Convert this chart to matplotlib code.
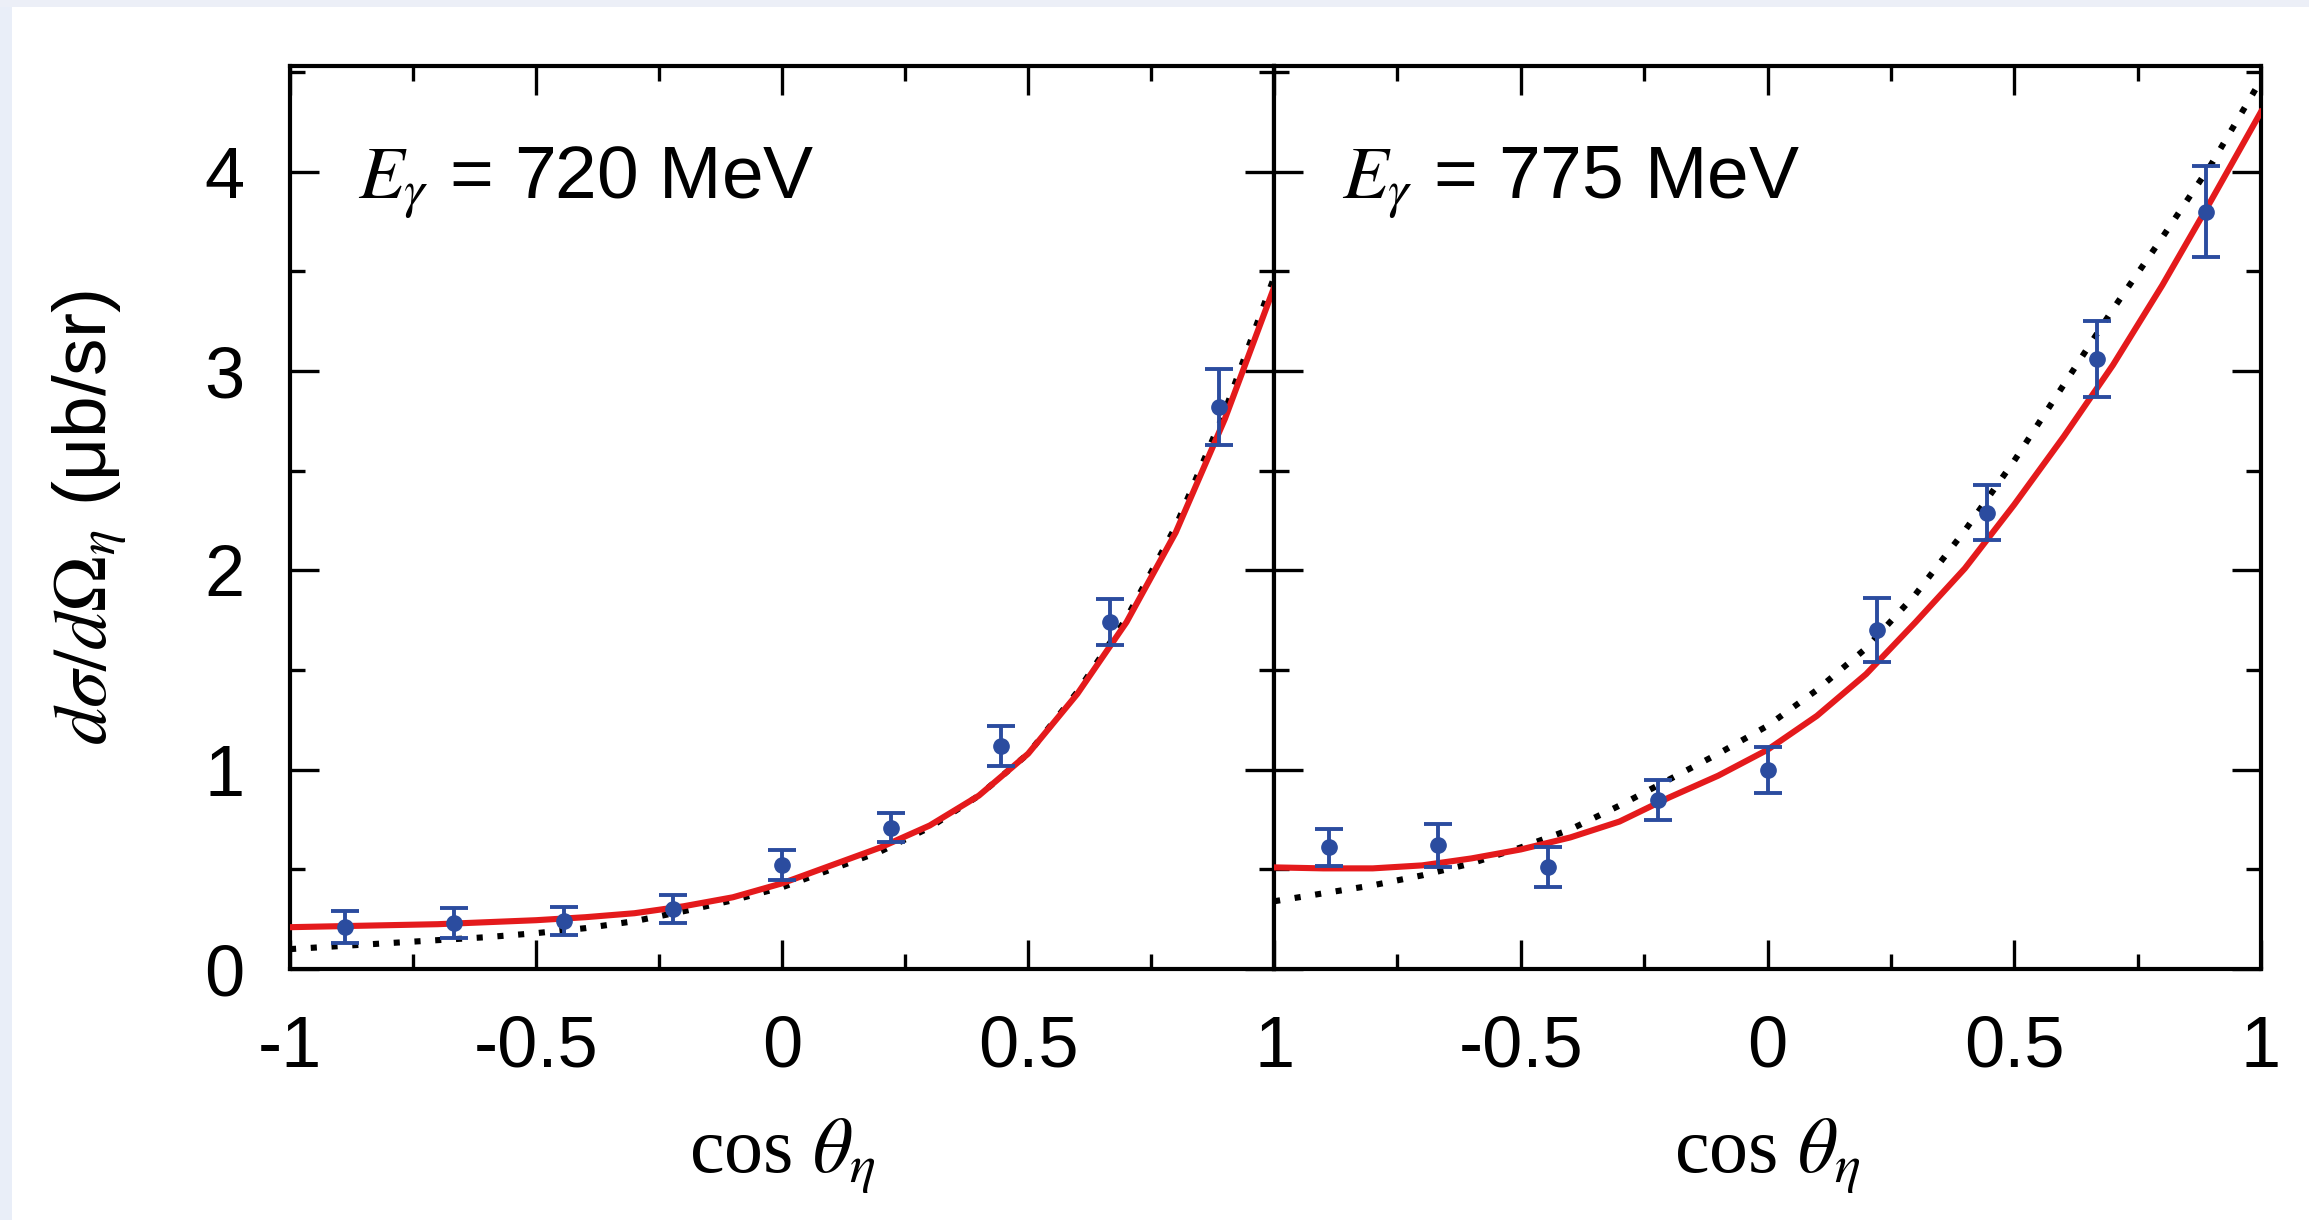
import matplotlib
matplotlib.use('Agg')
import matplotlib.pyplot as plt
from matplotlib.patches import Rectangle
from matplotlib.ticker import FixedLocator, FixedFormatter, MultipleLocator

# ---------------- data ----------------
cos_bins = [-0.889, -0.667, -0.444, -0.222, 0.0, 0.222, 0.444, 0.667, 0.889]

xs_720 = [0.21, 0.23, 0.24, 0.30, 0.52, 0.71, 1.12, 1.74, 2.82]
err_720 = [0.08, 0.075, 0.07, 0.07, 0.075, 0.073, 0.10, 0.115, 0.19]

xs_775 = [0.61, 0.62, 0.51, 0.85, 1.00, 1.70, 2.29, 3.06, 3.80]
err_775 = [0.095, 0.11, 0.10, 0.10, 0.115, 0.16, 0.14, 0.19, 0.23]

curve_x = [-1.0, -0.9, -0.8, -0.7, -0.6, -0.5, -0.4, -0.3, -0.2, -0.1, 0.0,
           0.1, 0.2, 0.3, 0.4, 0.5, 0.6, 0.7, 0.8, 0.9, 1.0]
red_720 = [0.21, 0.215, 0.22, 0.225, 0.235, 0.245, 0.26, 0.28, 0.315, 0.36, 0.43,
           0.52, 0.61, 0.72, 0.87, 1.08, 1.38, 1.74, 2.19, 2.76, 3.42]
dot_720 = [0.10, 0.115, 0.13, 0.145, 0.16, 0.18, 0.205, 0.24, 0.29, 0.345, 0.41,
           0.50, 0.59, 0.71, 0.87, 1.08, 1.39, 1.76, 2.22, 2.80, 3.47]
red_775 = [0.51, 0.505, 0.505, 0.52, 0.555, 0.60, 0.66, 0.74, 0.86, 0.97, 1.10,
           1.27, 1.48, 1.74, 2.01, 2.33, 2.67, 3.03, 3.43, 3.86, 4.30]
dot_775 = [0.34, 0.38, 0.42, 0.47, 0.53, 0.61, 0.70, 0.82, 0.95, 1.08, 1.22,
           1.40, 1.61, 1.88, 2.20, 2.55, 2.93, 3.31, 3.67, 4.04, 4.46]

energies = ['720', '775']
xtick_vals = [-1, -0.5, 0, 0.5, 1]
xtick_labels_left = ['-1', '-0.5', '0', '0.5', '1']
xtick_labels_right = ['', '-0.5', '0', '0.5', '1']
ytick_vals = [0, 1, 2, 3, 4]
ytick_labels = ['0', '1', '2', '3', '4']

# ---------------- style ----------------
plt.rcParams['font.family'] = ['Liberation Sans', 'DejaVu Sans']
plt.rcParams['mathtext.fontset'] = 'stix'

BLUE = '#2b4c9f'
RED = '#e41a1c'

fig = plt.figure(figsize=(23.09, 12.20), dpi=100)
fig.patch.set_facecolor('white')
# faint screenshot edges
fig.add_artist(Rectangle((0, 0), 12 / 2309, 1, transform=fig.transFigure,
                         facecolor='#e9eef8', edgecolor='none', zorder=0))
fig.add_artist(Rectangle((0, 1 - 7 / 1220), 1, 7 / 1220, transform=fig.transFigure,
                         facecolor='#eceff7', edgecolor='none', zorder=0))

ax_l = fig.add_axes([0.1256, 0.2057, 0.4262, 0.7402])
ax_r = fig.add_axes([0.5518, 0.2057, 0.4274, 0.7402])

panels = [
    (ax_l, xs_720, err_720, red_720, dot_720, energies[0], xtick_labels_left),
    (ax_r, xs_775, err_775, red_775, dot_775, energies[1], xtick_labels_right),
]

for ax, ys, es, red, dot, en, xlabs in panels:
    ax.plot(curve_x, dot, color='black', lw=4.4, linestyle=(0, (1, 2.4)),
            dash_capstyle='butt', zorder=2)
    ax.plot(curve_x, red, color=RED, lw=4.4, zorder=3)
    ax.errorbar(cos_bins, ys, yerr=es, fmt='o', color=BLUE, ms=11,
                elinewidth=2.8, capsize=10, capthick=2.8, zorder=4)
    ax.set_xlim(-1, 1)
    ax.set_ylim(0, 4.53)
    ax.xaxis.set_major_locator(FixedLocator(xtick_vals))
    ax.xaxis.set_major_formatter(FixedFormatter(xlabs))
    ax.xaxis.set_minor_locator(MultipleLocator(0.25))
    ax.yaxis.set_major_locator(FixedLocator(ytick_vals))
    ax.yaxis.set_minor_locator(MultipleLocator(0.5))
    ax.tick_params(which='both', direction='in', top=True, right=True,
                   width=2.4, color='black')
    ax.tick_params(which='major', length=21, labelsize=52, pad=33)
    ax.tick_params(which='minor', length=11)
    for sp in ax.spines.values():
        sp.set_linewidth(3.0)
    ax.set_xlabel(r'cos $\theta_\eta$', fontsize=56,
                  family=['Liberation Serif', 'DejaVu Serif'])
    ax.xaxis.set_label_coords(0.5, -0.163)
    ax.text(0.069, 0.853, r'$E_\gamma$ = ' + en + ' MeV', transform=ax.transAxes,
            fontsize=54, ha='left', va='baseline')

ax_l.yaxis.set_major_formatter(FixedFormatter(ytick_labels))
ax_r.yaxis.set_major_formatter(FixedFormatter(['', '', '', '', '']))
ax_l.set_ylabel(r'$d\sigma/d\Omega_\eta$ (μb/sr)', fontsize=54)
ax_l.yaxis.set_label_coords(-0.163, 0.5)

fig.savefig('out.png', dpi=100, facecolor='white')
